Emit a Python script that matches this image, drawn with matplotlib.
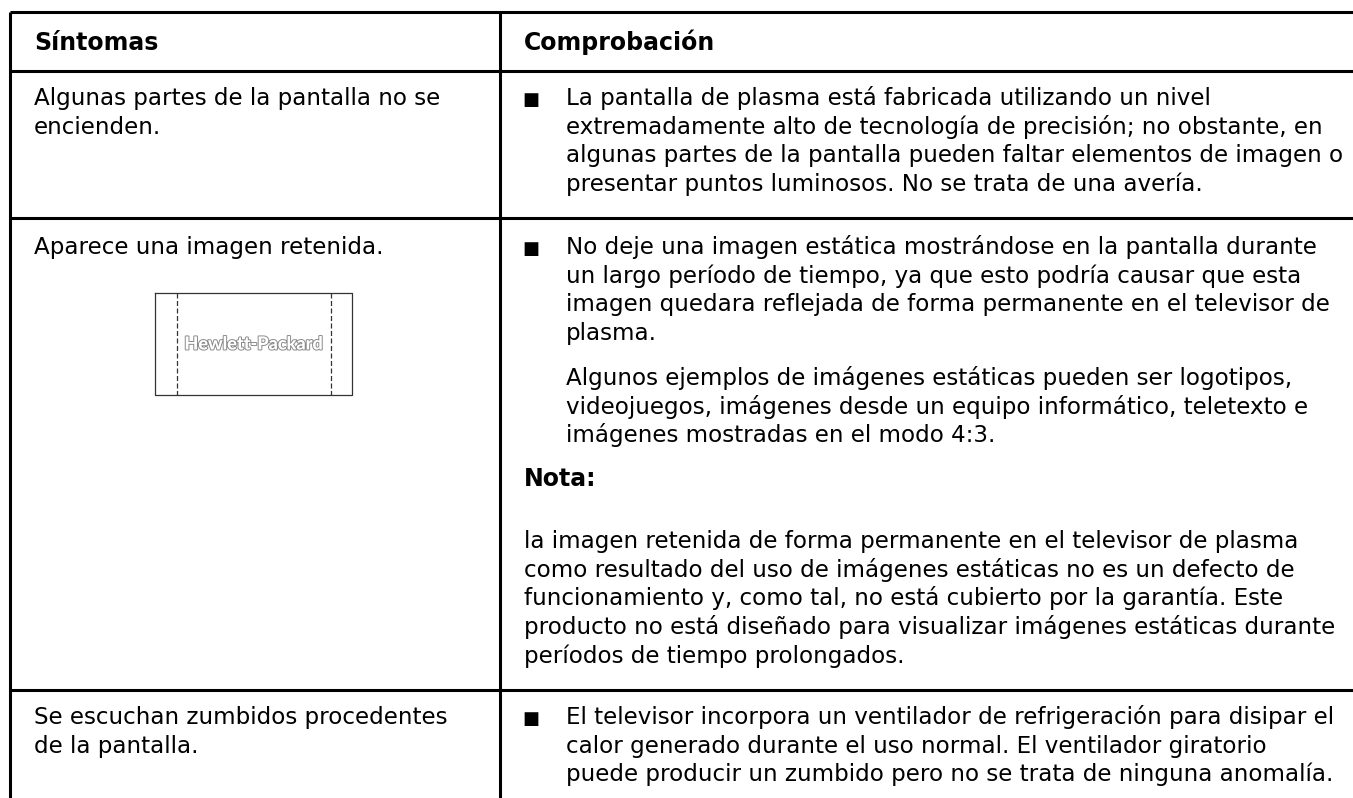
import matplotlib.pyplot as plt
import matplotlib.patheffects as pe

# Table content
headers = ["Síntomas", "Comprobación"]

symptom_rows = [
    ["Algunas partes de la pantalla no se", "encienden."],
    ["Aparece una imagen retenida."],
    ["Se escuchan zumbidos procedentes", "de la pantalla."],
]

check_row1 = ["La pantalla de plasma está fabricada utilizando un nivel",
              "extremadamente alto de tecnología de precisión; no obstante, en",
              "algunas partes de la pantalla pueden faltar elementos de imagen o",
              "presentar puntos luminosos. No se trata de una avería."]
check_row2 = ["No deje una imagen estática mostrándose en la pantalla durante",
              "un largo período de tiempo, ya que esto podría causar que esta",
              "imagen quedara reflejada de forma permanente en el televisor de",
              "plasma."]
check_row2_para = ["Algunos ejemplos de imágenes estáticas pueden ser logotipos,",
                   "videojuegos, imágenes desde un equipo informático, teletexto e",
                   "imágenes mostradas en el modo 4:3."]
note_title = "Nota:"
note_lines = ["la imagen retenida de forma permanente en el televisor de plasma",
              "como resultado del uso de imágenes estáticas no es un defecto de",
              "funcionamiento y, como tal, no está cubierto por la garantía. Este",
              "producto no está diseñado para visualizar imágenes estáticas durante",
              "períodos de tiempo prolongados."]
check_row3 = ["El televisor incorpora un ventilador de refrigeración para disipar el",
              "calor generado durante el uso normal. El ventilador giratorio",
              "puede producir un zumbido pero no se trata de ninguna anomalía."]
logo_text = "Hewlett-Packard"

# Layout (pixels)
W, H = 1353, 798
pitch = 28.7
x_left, x_div = 10, 500
row_lines = [12, 71, 218, 690]
x_c1, x_c2, x_bul, x_txt = 34, 524, 522, 566

FONT = "DejaVu Sans"
FS = 16.6
FS_B = 17.0
lw = 2.2

fig = plt.figure(figsize=(W / 100, H / 100), dpi=100)
ax = fig.add_axes([0, 0, 1, 1])
ax.set_xlim(0, W)
ax.set_ylim(H, 0)
ax.axis("off")

# grid lines
for y in row_lines:
    ax.plot([x_left, W], [y, y], color="black", lw=lw, solid_capstyle="butt")
for x in [x_left, x_div]:
    ax.plot([x, x], [row_lines[0], H], color="black", lw=lw, solid_capstyle="butt")


def lines(x, y0, items, bold=False):
    for i, s in enumerate(items):
        ax.text(x, y0 + i * pitch, s, fontsize=FS_B if bold else FS, family=FONT,
                fontweight="bold" if bold else "normal",
                va="baseline", ha="left", color="black")


def bullet(y):
    ax.text(x_bul, y, "■", fontsize=13, family="DejaVu Sans",
            va="baseline", ha="left", color="black")


# headers
lines(x_c1, 50, [headers[0]], bold=True)
lines(x_c2, 50, [headers[1]], bold=True)

# symptoms column
lines(x_c1, 105, symptom_rows[0])
lines(x_c1, 254, symptom_rows[1])
lines(x_c1, 724, symptom_rows[2])

# checks column
bullet(105)
lines(x_txt, 105, check_row1)
bullet(254)
lines(x_txt, 254, check_row2)
lines(x_txt, 385, check_row2_para)
lines(x_c2, 486, [note_title], bold=True)
lines(x_c2, 548, note_lines)
bullet(724)
lines(x_txt, 724, check_row3)

# retained-image sketch
bx0, bx1, by0, by1 = 155, 352, 293, 395
ax.plot([bx0, bx1, bx1, bx0, bx0], [by0, by0, by1, by1, by0], color="#333333", lw=0.9)
for x in [177, 331]:
    ax.plot([x, x], [by0, by1], color="#333333", lw=0.9, ls=(0, (4, 2)))
ax.text((bx0 + bx1) / 2, (by0 + by1) / 2, logo_text, fontsize=13, family="Lato",
        fontweight="black", color="white", ha="center", va="center",
        path_effects=[pe.Stroke(linewidth=1.4, foreground="#8a8a8a"), pe.Normal()])

fig.savefig("out.png", dpi=100)
